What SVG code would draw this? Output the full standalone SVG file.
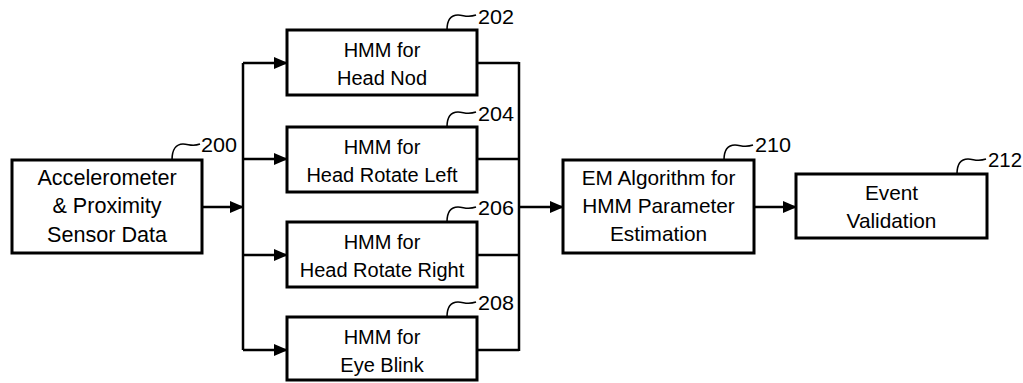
<svg xmlns="http://www.w3.org/2000/svg" width="1023" height="383" viewBox="0 0 1023 383">
<style>
.box{fill:#fff;stroke:#000;stroke-width:3}
.t{font-family:"Liberation Sans",Arial,sans-serif;font-size:20px;text-anchor:middle;fill:#000}
.big{font-size:21.6px}
.mid{font-size:20.8px}
.lbl{font-family:"Liberation Sans",Arial,sans-serif;font-size:21px;fill:#000}
.ld{fill:none;stroke:#000;stroke-width:1.6}
.c{fill:none;stroke:#000;stroke-width:2.5}
</style>
<defs>
<marker id="ah" markerWidth="14" markerHeight="12" refX="13" refY="6" orient="auto" markerUnits="userSpaceOnUse">
<path d="M0,0 L14,6 L0,12 Z" fill="#000"/>
</marker>
</defs>
<g id="connectors">
<line class="c" x1="202" y1="207" x2="243" y2="207" marker-end="url(#ah)"/>
<line class="c" x1="243" y1="63" x2="243" y2="350"/>
<line class="c" x1="243" y1="63" x2="287" y2="63" marker-end="url(#ah)"/>
<line class="c" x1="243" y1="159" x2="287" y2="159" marker-end="url(#ah)"/>
<line class="c" x1="243" y1="255" x2="287" y2="255" marker-end="url(#ah)"/>
<line class="c" x1="243" y1="350" x2="287" y2="350" marker-end="url(#ah)"/>
<line class="c" x1="477" y1="63" x2="519" y2="63"/>
<line class="c" x1="477" y1="159" x2="519" y2="159"/>
<line class="c" x1="477" y1="255" x2="519" y2="255"/>
<line class="c" x1="477" y1="350" x2="519" y2="350"/>
<line class="c" x1="519" y1="62" x2="519" y2="351"/>
<line class="c" x1="519" y1="207" x2="563" y2="207" marker-end="url(#ah)"/>
<line class="c" x1="754" y1="207" x2="796" y2="207" marker-end="url(#ah)"/>
</g>
<g id="n200">
<rect class="box" x="12" y="160" width="190" height="93"/>
<text class="t big" x="107" y="185">Accelerometer</text>
<text class="t big" x="107" y="213">&amp; Proximity</text>
<text class="t big" x="107" y="242">Sensor Data</text>
<path class="ld" d="M172,160 C172,150 176,144 183,144 C189,144 192,147 200,144"/>
<text class="lbl" x="201" y="152" textLength="36" lengthAdjust="spacingAndGlyphs">200</text>
</g>
<g id="n202">
<rect class="box" x="287" y="30" width="190" height="65"/>
<text class="t" x="382" y="57">HMM for</text>
<text class="t" x="382" y="85">Head Nod</text>
<path class="ld" d="M447,30 C447,20 451,15 458,15 C464,15 467,18 476,15"/>
<text class="lbl" x="478" y="24" textLength="36" lengthAdjust="spacingAndGlyphs">202</text>
</g>
<g id="n204">
<rect class="box" x="287" y="127" width="190" height="65"/>
<text class="t" x="382" y="154">HMM for</text>
<text class="t" x="382" y="182">Head Rotate Left</text>
<path class="ld" d="M447,127 C447,117 451,112 458,112 C464,112 467,115 476,112"/>
<text class="lbl" x="478" y="121" textLength="36" lengthAdjust="spacingAndGlyphs">204</text>
</g>
<g id="n206">
<rect class="box" x="287" y="222" width="190" height="65"/>
<text class="t" x="382" y="249">HMM for</text>
<text class="t" x="382" y="277">Head Rotate Right</text>
<path class="ld" d="M447,222 C447,212 451,207 458,207 C464,207 467,210 476,207"/>
<text class="lbl" x="478" y="215" textLength="36" lengthAdjust="spacingAndGlyphs">206</text>
</g>
<g id="n208">
<rect class="box" x="287" y="317" width="190" height="63"/>
<text class="t" x="382" y="344">HMM for</text>
<text class="t" x="382" y="372">Eye Blink</text>
<path class="ld" d="M447,317 C447,307 451,302 458,302 C464,302 467,305 476,302"/>
<text class="lbl" x="478" y="310" textLength="36" lengthAdjust="spacingAndGlyphs">208</text>
</g>
<g id="n210">
<rect class="box" x="563" y="160" width="191" height="93"/>
<text class="t mid" x="658.5" y="185">EM Algorithm for</text>
<text class="t mid" x="658.5" y="213">HMM Parameter</text>
<text class="t mid" x="658.5" y="241">Estimation</text>
<path class="ld" d="M724,160 C724,150 728,145 735,145 C741,145 744,148 753,145"/>
<text class="lbl" x="755" y="152" textLength="36" lengthAdjust="spacingAndGlyphs">210</text>
</g>
<g id="n212">
<rect class="box" x="796" y="174" width="191" height="64"/>
<text class="t mid" x="891.5" y="200">Event</text>
<text class="t mid" x="891.5" y="228">Validation</text>
<path class="ld" d="M957,174 C957,164 961,159 968,159 C974,159 977,162 986,159"/>
<text class="lbl" x="988" y="167" textLength="34" lengthAdjust="spacingAndGlyphs">212</text>
</g>
</svg>
